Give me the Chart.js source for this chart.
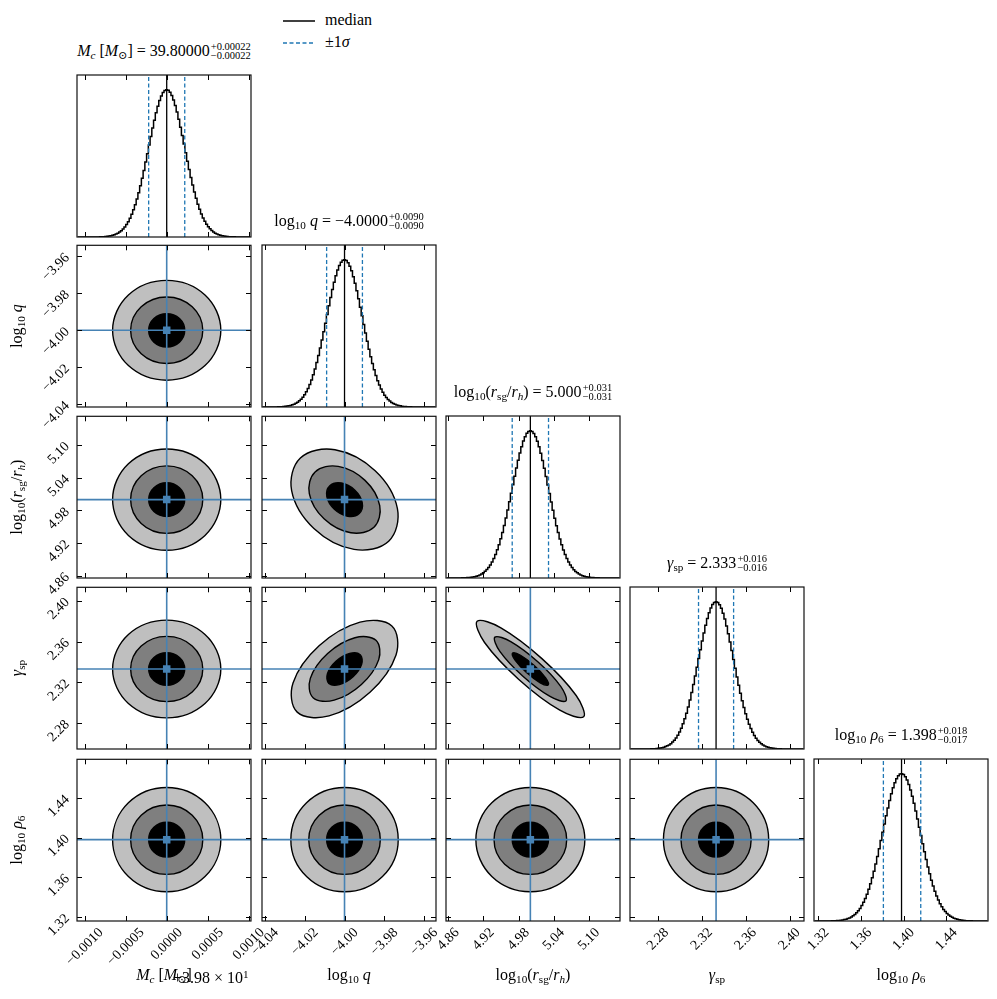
<!DOCTYPE html>
<html>
<head>
<meta charset="utf-8">
<title>corner plot</title>
<script src="https://cdn.jsdelivr.net/npm/chart.js@4.4.1/dist/chart.umd.min.js"></script>
<style>
  html, body { margin: 0; padding: 0; background: #fff; }
  body { width: 997px; height: 999px; position: relative; overflow: hidden;
         font-family: "Liberation Serif", "DejaVu Serif", serif; color: #000; }
  canvas { position: absolute; }
  .txt { position: absolute; white-space: nowrap; font-size: 16px; line-height: 20px; height: 20px; }
  .txt sub { font-size: 70%; vertical-align: -0.28em; line-height: 0; }
  .txt sup { font-size: 70%; vertical-align: 0.45em; line-height: 0; }
  .ss { display: inline-flex; flex-direction: column; font-size: 10.5px; line-height: 9.5px; vertical-align: 6.5px; margin-left: 1px; }
  .cx { transform: translateX(-50%); }
  .ylab { transform: translate(-50%, 0) rotate(-90deg); }
  .lg { position: absolute; left: 283px; font-size: 16px; line-height: 20px; white-space: nowrap; }
  .lg svg { vertical-align: middle; margin-right: 10px; }
</style>
</head>
<body>
<div class="lg" style="top:10px"><svg width="32" height="4"><line x1="0" y1="2" x2="32" y2="2" stroke="#000" stroke-width="1.5"/></svg>median</div>
<div class="lg" style="top:32px"><svg width="32" height="4"><line x1="0" y1="2" x2="32" y2="2" stroke="#1f77b4" stroke-width="1.5" stroke-dasharray="4 2.5"/></svg>±1<i>σ</i></div>

<script>
// parameters: Mc (offset from 39.8), log10 q, log10(rsg/rh), gamma_sp, log10 rho6
const paramLabels = [
  '<i>M</i><sub><i>c</i></sub> [<i>M</i><sub>⊙</sub>]',
  'log<sub>10</sub> <i>q</i>',
  'log<sub>10</sub>(<i>r</i><sub>sg</sub>/<i>r</i><sub><i>h</i></sub>)',
  '<i>γ</i><sub>sp</sub>',
  'log<sub>10</sub> <i>ρ</i><sub>6</sub>'
];
const medianText = ['39.80000', '−4.0000', '5.000', '2.333', '1.398'];
const plusText = ['+0.00022', '+0.0090', '+0.031', '+0.016', '+0.018'];
const minusText = ['−0.00022', '−0.0090', '−0.031', '−0.016', '−0.017'];
const offsetText = '+3.98 × 10<sup>1</sup>';

const medians = [0, -4.0, 5.0, 2.333, 1.398];
const errLo = [0.00022, 0.0090, 0.031, 0.016, 0.017];
const errHi = [0.00022, 0.0090, 0.031, 0.016, 0.018];
const truths = [0, -4.0, 5.0, 2.333, 1.398];

const axisMin = [-0.001094, -4.0415, 4.856, 2.2545, 1.316];
const axisMax = [0.001028, -3.954, 5.153, 2.4132, 1.479];

const ticks0 = [-0.0010, -0.0005, 0, 0.0005, 0.0010];
const ticks1 = [-4.04, -4.02, -4.00, -3.98, -3.96];
const ticks2 = [4.86, 4.92, 4.98, 5.04, 5.10];
const ticks3 = [2.28, 2.32, 2.36, 2.40];
const ticks4 = [1.32, 1.36, 1.40, 1.44];
const tickText0 = ['−0.0010', '−0.0005', '0.0000', '0.0005', '0.0010'];
const tickText1 = ['−4.04', '−4.02', '−4.00', '−3.98', '−3.96'];
const tickText2 = ['4.86', '4.92', '4.98', '5.04', '5.10'];
const tickText3 = ['2.28', '2.32', '2.36', '2.40'];
const tickText4 = ['1.32', '1.36', '1.40', '1.44'];

// 1D histograms (100 bins over each axis range, peak ~1)
const hist0 = [0, 0, 0, 0, 0, 0, 0.0001, 0.0001, 0.0002, 0.0003,
  0.0004, 0.0006, 0.0008, 0.0012, 0.0017, 0.0024, 0.0033, 0.0045, 0.0062, 0.0084,
  0.0112, 0.0149, 0.0196, 0.0256, 0.0332, 0.0425, 0.0539, 0.0677, 0.0843, 0.1041,
  0.1272, 0.1539, 0.1846, 0.2194, 0.258, 0.3013, 0.348, 0.3988, 0.4522, 0.5085,
  0.5661, 0.6247, 0.6825, 0.7393, 0.793, 0.8431, 0.8876, 0.9265, 0.9574, 0.9806,
  0.9948, 1.0, 0.9959, 0.9825, 0.9605, 0.93, 0.8924, 0.8481, 0.799, 0.7453,
  0.6891, 0.6309, 0.5726, 0.5145, 0.4583, 0.4042, 0.3536, 0.306, 0.2627, 0.2232,
  0.1882, 0.1569, 0.1298, 0.1063, 0.0862, 0.0693, 0.0552, 0.0435, 0.034, 0.0263,
  0.0202, 0.0154, 0.0116, 0.0087, 0.0064, 0.0047, 0.0034, 0.0024, 0.0017, 0.0012,
  0.0009, 0.0006, 0.0004, 0.0003, 0.0002, 0.0001, 0.0001, 0, 0, 0];
const hist1 = [0, 0, 0.0001, 0.0001, 0.0002, 0.0002, 0.0004, 0.0005, 0.0008, 0.0011,
  0.0016, 0.0023, 0.0032, 0.0044, 0.006, 0.0081, 0.0109, 0.0145, 0.0192, 0.0251,
  0.0325, 0.0418, 0.0531, 0.0669, 0.0834, 0.1032, 0.1264, 0.1532, 0.184, 0.2194,
  0.2583, 0.3017, 0.349, 0.3999, 0.4544, 0.5109, 0.569, 0.6277, 0.6867, 0.7434,
  0.7973, 0.8472, 0.892, 0.93, 0.9605, 0.9827, 0.996, 1.0, 0.9945, 0.9798,
  0.9563, 0.9246, 0.885, 0.8397, 0.7893, 0.7347, 0.6771, 0.6188, 0.56, 0.502,
  0.4459, 0.3917, 0.3415, 0.2949, 0.2523, 0.2134, 0.1789, 0.1488, 0.1225, 0.1,
  0.0806, 0.0646, 0.0512, 0.0402, 0.0313, 0.0241, 0.0184, 0.0139, 0.0104, 0.0077,
  0.0057, 0.0041, 0.003, 0.0021, 0.0015, 0.001, 0.0007, 0.0005, 0.0003, 0.0002,
  0.0002, 0.0001, 0, 0, 0, 0, 0, 0, 0, 0];
const hist2 = [0, 0, 0.0001, 0.0001, 0.0001, 0.0002, 0.0003, 0.0005, 0.0006, 0.0009,
  0.0013, 0.0019, 0.0026, 0.0036, 0.005, 0.0068, 0.0091, 0.0122, 0.0161, 0.0211,
  0.0275, 0.0354, 0.0452, 0.0569, 0.0713, 0.0886, 0.1088, 0.1326, 0.16, 0.1911,
  0.2265, 0.2661, 0.3097, 0.3566, 0.4073, 0.4612, 0.5175, 0.5749, 0.6326, 0.6903,
  0.7464, 0.7994, 0.8486, 0.892, 0.9296, 0.9599, 0.9821, 0.9956, 1.0, 0.9953,
  0.9815, 0.9591, 0.9286, 0.8913, 0.8472, 0.7978, 0.7446, 0.6886, 0.6315, 0.5732,
  0.5158, 0.4595, 0.4057, 0.3556, 0.3085, 0.2648, 0.2256, 0.1901, 0.1592, 0.1318,
  0.1082, 0.088, 0.0709, 0.0566, 0.0449, 0.0351, 0.0273, 0.0209, 0.016, 0.0121,
  0.0091, 0.0067, 0.0049, 0.0036, 0.0026, 0.0018, 0.0013, 0.0009, 0.0006, 0.0005,
  0.0003, 0.0002, 0.0001, 0.0001, 0, 0, 0, 0, 0, 0];
const hist3 = [0, 0, 0, 0, 0, 0.0001, 0.0001, 0.0002, 0.0003, 0.0004,
  0.0006, 0.0008, 0.0012, 0.0017, 0.0025, 0.0035, 0.0048, 0.0066, 0.009, 0.0121,
  0.0162, 0.0214, 0.028, 0.0364, 0.0467, 0.0594, 0.0748, 0.0933, 0.1154, 0.1412,
  0.1708, 0.2046, 0.243, 0.2859, 0.3329, 0.3836, 0.4379, 0.4949, 0.5544, 0.6143,
  0.6743, 0.7325, 0.7882, 0.8403, 0.8864, 0.926, 0.958, 0.9813, 0.9956, 1.0,
  0.9946, 0.9796, 0.9554, 0.9224, 0.882, 0.8353, 0.7832, 0.7273, 0.6682, 0.6083,
  0.5485, 0.4897, 0.4329, 0.3785, 0.328, 0.2815, 0.2393, 0.2014, 0.1676, 0.1384,
  0.1131, 0.0914, 0.0733, 0.058, 0.0456, 0.0354, 0.0274, 0.0209, 0.0157, 0.0117,
  0.0087, 0.0064, 0.0046, 0.0033, 0.0024, 0.0017, 0.0012, 0.0008, 0.0006, 0.0004,
  0.0003, 0.0002, 0.0001, 0.0001, 0, 0, 0, 0, 0, 0];
const hist4 = [0, 0, 0, 0.0001, 0.0001, 0.0002, 0.0002, 0.0004, 0.0005, 0.0007,
  0.001, 0.0015, 0.002, 0.0028, 0.0038, 0.0052, 0.007, 0.0094, 0.0124, 0.0163,
  0.0212, 0.0274, 0.0349, 0.0443, 0.0556, 0.0693, 0.0856, 0.1048, 0.1271, 0.1529,
  0.1823, 0.2155, 0.253, 0.2936, 0.3385, 0.3866, 0.4374, 0.4908, 0.5461, 0.6029,
  0.6591, 0.7146, 0.7679, 0.8178, 0.8638, 0.9046, 0.9393, 0.9665, 0.986, 0.9972,
  0.9998, 0.9939, 0.9794, 0.9566, 0.9265, 0.8895, 0.8466, 0.799, 0.7475, 0.6932,
  0.6368, 0.5804, 0.5245, 0.4699, 0.4175, 0.3674, 0.3203, 0.2771, 0.2376, 0.2022,
  0.1705, 0.1424, 0.1178, 0.0969, 0.0789, 0.0637, 0.051, 0.0404, 0.0317, 0.0247,
  0.0191, 0.0146, 0.0111, 0.0084, 0.0063, 0.0046, 0.0034, 0.0025, 0.0018, 0.0013,
  0.0009, 0.0006, 0.0004, 0.0003, 0.0002, 0.0001, 0.0001, 0, 0, 0];

// contour vertices (1, 2, 3 sigma) for the uncorrelated pairs, per parameter
const mcRingX = [
  [0.00022, 0.000156, 0, -0.000156, -0.00022, -0.000156, 0, 0.000156],
  [0.00044, 0.000311, 0, -0.000311, -0.00044, -0.000311, 0, 0.000311],
  [0.00066, 0.000467, 0, -0.000467, -0.00066, -0.000467, 0, 0.000467]];
const qRingX = [
  [-3.991, -3.9936, -4.0, -4.0064, -4.009, -4.0064, -4.0, -3.9936],
  [-3.982, -3.9873, -4.0, -4.0127, -4.018, -4.0127, -4.0, -3.9873],
  [-3.973, -3.9809, -4.0, -4.0191, -4.027, -4.0191, -4.0, -3.9809]];
const qRingY = [
  [-4.0, -3.9936, -3.991, -3.9936, -4.0, -4.0064, -4.009, -4.0064],
  [-4.0, -3.9873, -3.982, -3.9873, -4.0, -4.0127, -4.018, -4.0127],
  [-4.0, -3.9809, -3.973, -3.9809, -4.0, -4.0191, -4.027, -4.0191]];
const rsgRingX = [
  [5.031, 5.0219, 5.0, 4.9781, 4.969, 4.9781, 5.0, 5.0219],
  [5.062, 5.0438, 5.0, 4.9562, 4.938, 4.9562, 5.0, 5.0438],
  [5.093, 5.0658, 5.0, 4.9342, 4.907, 4.9342, 5.0, 5.0658]];
const rsgRingY = [
  [5.0, 5.0219, 5.031, 5.0219, 5.0, 4.9781, 4.969, 4.9781],
  [5.0, 5.0438, 5.062, 5.0438, 5.0, 4.9562, 4.938, 4.9562],
  [5.0, 5.0658, 5.093, 5.0658, 5.0, 4.9342, 4.907, 4.9342]];
const gamRingX = [
  [2.349, 2.3443, 2.333, 2.3217, 2.317, 2.3217, 2.333, 2.3443],
  [2.365, 2.3556, 2.333, 2.3104, 2.301, 2.3104, 2.333, 2.3556],
  [2.381, 2.3669, 2.333, 2.2991, 2.285, 2.2991, 2.333, 2.3669]];
const gamRingY = [
  [2.333, 2.3443, 2.349, 2.3443, 2.333, 2.3217, 2.317, 2.3217],
  [2.333, 2.3556, 2.365, 2.3556, 2.333, 2.3104, 2.301, 2.3104],
  [2.333, 2.3669, 2.381, 2.3669, 2.333, 2.2991, 2.285, 2.2991]];
const rhoRingY = [
  [1.398, 1.4104, 1.4155, 1.4104, 1.398, 1.3856, 1.3805, 1.3856],
  [1.398, 1.4227, 1.433, 1.4227, 1.398, 1.3733, 1.363, 1.3733],
  [1.398, 1.4351, 1.4505, 1.4351, 1.398, 1.3609, 1.3455, 1.3609]];

// correlated pairs
const qRsgX = [
  [-3.9949, -3.9911, -3.9926, -3.9984, -4.0051, -4.0089, -4.0074, -4.0016],
  [-3.9897, -3.9823, -3.9852, -3.9968, -4.0103, -4.0177, -4.0148, -4.0032],
  [-3.9846, -3.9734, -3.9778, -3.9952, -4.0154, -4.0266, -4.0222, -4.0048]];
const qRsgY = [
  [5.0177, 4.9945, 4.9745, 4.9695, 4.9823, 5.0055, 5.0255, 5.0305],
  [5.0353, 4.9890, 4.9491, 4.9390, 4.9647, 5.0110, 5.0509, 5.0610],
  [5.0530, 4.9835, 4.9236, 4.9085, 4.9470, 5.0165, 5.0764, 5.0915]];
const qGamX = [
  [-3.9921, -3.9914, -3.9957, -4.0026, -4.0079, -4.0086, -4.0043, -3.9974],
  [-3.9842, -3.9828, -3.9915, -4.0052, -4.0158, -4.0172, -4.0085, -3.9948],
  [-3.9762, -3.9741, -3.9872, -4.0078, -4.0238, -4.0259, -4.0128, -3.9922]];
const qGamY = [
  [2.3471, 2.3376, 2.3254, 2.3177, 2.3189, 2.3284, 2.3406, 2.3483],
  [2.3612, 2.3422, 2.3178, 2.3024, 2.3048, 2.3238, 2.3482, 2.3637],
  [2.3753, 2.3468, 2.3102, 2.2870, 2.2907, 2.3192, 2.3558, 2.3790]];
const rsgGamX = [
  [5.0066, 5.0261, 5.0303, 5.0168, 4.9934, 4.9739, 4.9697, 4.9832],
  [5.0132, 5.0521, 5.0606, 5.0335, 4.9868, 4.9479, 4.9394, 4.9665],
  [5.0197, 5.0782, 5.0909, 5.0503, 4.9803, 4.9218, 4.9091, 4.9497]];
const rsgGamY = [
  [2.3364, 2.3243, 2.3174, 2.3195, 2.3296, 2.3417, 2.3486, 2.3465],
  [2.3398, 2.3157, 2.3017, 2.3061, 2.3262, 2.3503, 2.3643, 2.3599],
  [2.3432, 2.3070, 2.2861, 2.2926, 2.3228, 2.3590, 2.3799, 2.3734]];

const hists = [hist0, hist1, hist2, hist3, hist4];
const tickVals = [ticks0, ticks1, ticks2, ticks3, ticks4];
const tickTexts = [tickText0, tickText1, tickText2, tickText3, tickText4];
const ringX = [mcRingX, qRingX, rsgRingX, gamRingX];
const ringY = [null, qRingY, rsgRingY, gamRingY, rhoRingY];

// layout
const colX = [77, 262, 446, 630, 814];
const rowY = [75, 245, 416, 587, 759];
const PW = 174, PH = 162;
const truthColor = '#4682b4';
const sigmaColor = '#1f77b4';
const levelFill = ['#000000', '#7f7f7f', '#bfbfbf'];

function contourFor(c, r) {
  if (c === 1 && r === 2) return [qRsgX, qRsgY];
  if (c === 1 && r === 3) return [qGamX, qGamY];
  if (c === 2 && r === 3) return [rsgGamX, rsgGamY];
  return [ringX[c], ringY[r]];
}

// closed ring: wrap one point on each side so the spline is smooth where it closes
function loopPts(xs, ys) {
  const n = xs.length;
  const idx = [n - 1].concat(xs.map((_, i) => i), [0, 1]);
  return idx.map(i => ({x: xs[i], y: ys[i]}));
}

function axesPlugin(m) {
  return {
    id: 'cornerAxes',
    afterDraw(chart) {
      const ctx = chart.ctx, a = chart.chartArea;
      const sx = chart.scales.x, sy = chart.scales.y;
      ctx.save();
      ctx.strokeStyle = '#000';
      ctx.lineWidth = 1;
      ctx.beginPath();
      m.xTicks.forEach(v => {
        const p = Math.round(sx.getPixelForValue(v)) + 0.5;
        ctx.moveTo(p, a.top); ctx.lineTo(p, a.top + 5);
        ctx.moveTo(p, a.bottom); ctx.lineTo(p, a.bottom - 5);
      });
      if (m.yTicks) m.yTicks.forEach(v => {
        const p = Math.round(sy.getPixelForValue(v)) + 0.5;
        ctx.moveTo(a.left, p); ctx.lineTo(a.left + 5, p);
        ctx.moveTo(a.right, p); ctx.lineTo(a.right - 5, p);
      });
      ctx.stroke();
      ctx.lineWidth = 1.2;
      ctx.strokeStyle = '#111';
      ctx.strokeRect(a.left, a.top, a.right - a.left, a.bottom - a.top);

      ctx.fillStyle = '#000';
      ctx.font = '14px "Liberation Serif", serif';
      if (m.xText) m.xTicks.forEach((v, i) => {
        const t = m.xText[i];
        const s = (ctx.measureText(t).width + 10) * Math.SQRT1_2;
        ctx.save();
        ctx.translate(sx.getPixelForValue(v), a.bottom + 6 + s / 2);
        ctx.rotate(-Math.PI / 4);
        ctx.textAlign = 'center';
        ctx.textBaseline = 'middle';
        ctx.fillText(t, 0, 0);
        ctx.restore();
      });
      if (m.yText) m.yTicks.forEach((v, i) => {
        ctx.save();
        ctx.translate(a.left - 7, sy.getPixelForValue(v) + 2);
        ctx.rotate(-Math.PI / 4);
        ctx.textAlign = 'right';
        ctx.textBaseline = 'alphabetic';
        ctx.fillText(m.yText[i], 0, 0);
        ctx.restore();
      });
      ctx.restore();
    }
  };
}

function makePanel(r, c) {
  const padL = c === 0 ? 77 : 30, padR = 30, padT = 5, padB = r === 4 ? 76 : 30;
  const cv = document.createElement('canvas');
  const w = PW + padL + padR, h = PH + padT + padB;
  cv.width = w; cv.height = h;
  cv.style.left = (colX[c] - padL) + 'px';
  cv.style.top = (rowY[r] - padT) + 'px';
  cv.style.width = w + 'px'; cv.style.height = h + 'px';
  document.body.appendChild(cv);

  const layers = []; // bottom to top
  let yMin, yMax;
  if (r === c) {
    const hv = hists[c];
    const n = hv.length;
    const bw = (axisMax[c] - axisMin[c]) / n;
    yMin = 0; yMax = 1.1 * Math.max(...hv);
    layers.push({
      data: hv.map((v, i) => ({x: axisMin[c] + (i + 0.5) * bw, y: v})),
      showLine: true, stepped: 'middle', borderColor: '#000', borderWidth: 1.5, pointRadius: 0
    });
    layers.push({
      data: [{x: medians[c], y: 0}, {x: medians[c], y: yMax}],
      showLine: true, borderColor: '#000', borderWidth: 1.3, pointRadius: 0
    });
    [medians[c] - errLo[c], medians[c] + errHi[c]].forEach(q => layers.push({
      data: [{x: q, y: 0}, {x: q, y: yMax}],
      showLine: true, borderColor: sigmaColor, borderWidth: 1.3, borderDash: [4, 2.5], pointRadius: 0
    }));
  } else {
    yMin = axisMin[r]; yMax = axisMax[r];
    const [cx, cy] = contourFor(c, r);
    for (let k = 2; k >= 0; k--) {
      layers.push({
        data: loopPts(cx[k], cy[k]), showLine: true, fill: 'shape', tension: 0.37,
        backgroundColor: levelFill[k], borderColor: 'rgba(0,0,0,0)', borderWidth: 0, pointRadius: 0
      });
    }
    for (let k = 2; k >= 0; k--) {
      const pts = loopPts(cx[k], cy[k]);
      const last = pts.length - 1;
      layers.push({
        data: pts, showLine: true, fill: false, tension: 0.37,
        borderColor: '#000', borderWidth: 1.4, pointRadius: 0,
        segment: {borderColor: s => (s.p0DataIndex === 0 || s.p1DataIndex === last) ? 'rgba(0,0,0,0)' : undefined}
      });
    }
    layers.push({
      data: [{x: truths[c], y: yMin}, {x: truths[c], y: yMax}],
      showLine: true, borderColor: truthColor, borderWidth: 1.6, pointRadius: 0
    });
    layers.push({
      data: [{x: axisMin[c], y: truths[r]}, {x: axisMax[c], y: truths[r]}],
      showLine: true, borderColor: truthColor, borderWidth: 1.6, pointRadius: 0
    });
    layers.push({
      data: [{x: truths[c], y: truths[r]}],
      pointStyle: 'rect', pointRadius: 5.3, backgroundColor: truthColor, borderWidth: 0
    });
  }

  new Chart(cv, {
    type: 'scatter',
    data: {datasets: layers.reverse()},
    options: {
      responsive: false, animation: false, events: [],
      layout: {padding: {left: padL, right: padR, top: padT, bottom: padB}},
      scales: {
        x: {type: 'linear', display: false, min: axisMin[c], max: axisMax[c]},
        y: {type: 'linear', display: false, min: yMin, max: yMax}
      },
      plugins: {legend: {display: false}, tooltip: {enabled: false}}
    },
    plugins: [axesPlugin({
      xTicks: tickVals[c],
      yTicks: r === c ? null : tickVals[r],
      xText: r === 4 ? tickTexts[c] : null,
      yText: (c === 0 && r > 0) ? tickTexts[r] : null
    })]
  });
}

function addText(html, left, top, cls) {
  const d = document.createElement('div');
  d.className = 'txt ' + cls;
  d.style.left = left + 'px';
  d.style.top = top + 'px';
  d.innerHTML = html;
  document.body.appendChild(d);
}

for (let r = 0; r < 5; r++) {
  for (let c = 0; c <= r; c++) makePanel(r, c);
}

for (let i = 0; i < 5; i++) {
  const mid = colX[i] + PW / 2;
  addText(paramLabels[i] + ' = ' + medianText[i] +
    '<span class="ss"><span>' + plusText[i] + '</span><span>' + minusText[i] + '</span></span>',
    mid, rowY[i] - 34, 'cx');
  addText(paramLabels[i], mid, 965, 'cx');
  if (i > 0) addText(paramLabels[i], 17, rowY[i] + PH / 2 - 10, 'ylab');
}
addText(offsetText, 173, 968, '');
</script>
</body>
</html>
